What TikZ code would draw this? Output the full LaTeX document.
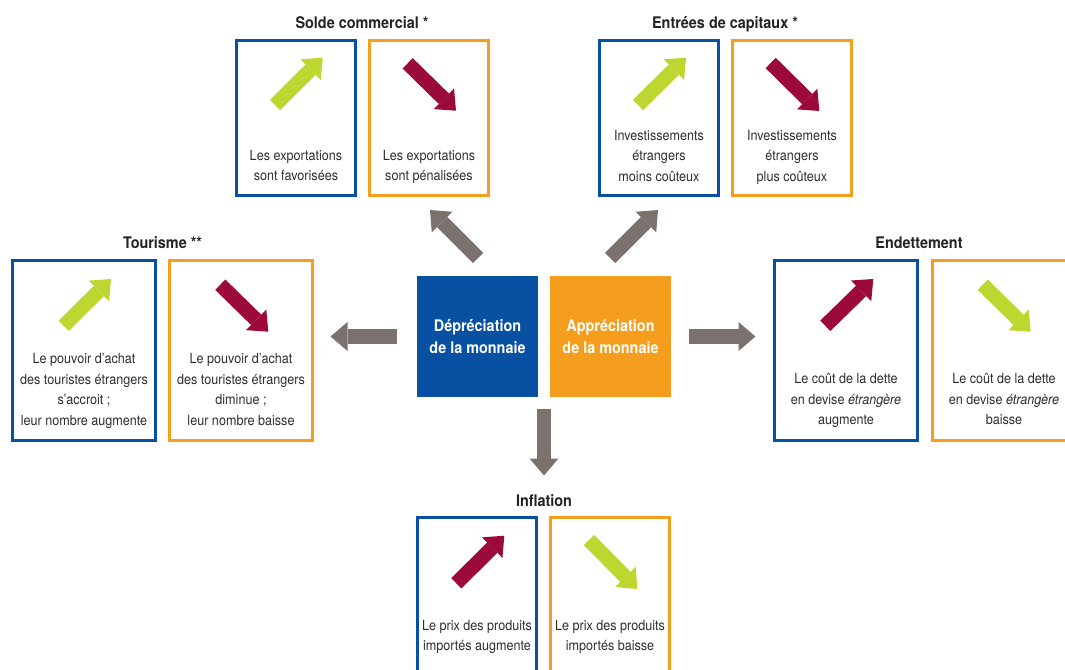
\documentclass[tikz,border=0pt]{standalone}
\usepackage{fontspec}
\setmainfont{TeX Gyre Heros}[FakeStretch=0.9]
\usetikzlibrary{arrows.meta,calc}
\definecolor{cblue}{RGB}{8,81,162}
\definecolor{corange}{RGB}{245,158,30}
\definecolor{cgreen}{RGB}{190,214,48}
\definecolor{cred}{RGB}{155,10,58}
\definecolor{cgray}{RGB}{123,113,110}
\definecolor{ctext}{RGB}{45,45,45}
\definecolor{ctitle}{RGB}{35,35,35}
\tikzset{
  fat/.style={line width=14.5pt, -{Triangle[width=29pt,length=17pt,line width=0pt]}},
  graya/.style={fat, draw=cgray},
  bbox/.style={draw=cblue, line width=3pt, inner sep=0pt},
  obox/.style={draw=corange, line width=3pt, inner sep=0pt},
  narrowbox/.style={minimum width=119pt, minimum height=155pt},
  widebox/.style={minimum width=143pt, minimum height=180pt},
  lowbox/.style={minimum width=119pt, minimum height=181pt},
  body/.style={font=\fontsize{14}{20.5}\selectfont, align=center, text=ctext, inner sep=0pt, anchor=base},
  ttl/.style={font=\fontsize{16}{19}\selectfont\bfseries, text=ctitle, inner sep=0pt, anchor=base},
  central/.style={minimum width=121pt, minimum height=121pt, inner sep=0pt, text=white, align=center,
    font=\fontsize{16}{22.6}\selectfont\bfseries},
}
\begin{document}
\begin{tikzpicture}[x=1pt,y=-1pt]
\useasboundingbox (0,0) rectangle (1065,669);
% central boxes
\node[central, fill=cblue] (dep) at (477.5,336.5) {Dépréciation\\de la monnaie};
\node[central, fill=corange] (app) at (610.5,336.5) {Appréciation\\de la monnaie};
% Solde commercial
\node[ttl] (tS) at (362,28.3) {Solde commercial *};
\node[bbox, narrowbox] (sB) at (296,118) {};
\node[obox, narrowbox] (sO) at (429,118) {};
\node[body] (xsB) at (296,180.5) {Les exportations\\sont favorisées};
\node[body] (xsO) at (429,180.5) {Les exportations\\sont pénalisées};
\draw[fat, cgreen] (275,105) -- (322.7,57.7);
\draw[fat, cred] (407.7,63.3) -- (456,110.7);
% Entrees de capitaux
\node[ttl] (tC) at (725,28.3) {Entrées de capitaux *};
\node[bbox, narrowbox] (cB) at (659,118) {};
\node[obox, narrowbox] (cO) at (792,118) {};
\node[body] (xcB) at (659,181) {Investissements\\étrangers\\moins coûteux};
\node[body] (xcO) at (792,181) {Investissements\\étrangers\\plus coûteux};
\draw[fat, cgreen] (638,105) -- (686,57.7);
\draw[fat, cred] (770.7,63) -- (819.3,111);
% Tourisme
\node[ttl] (tT) at (162.5,248.3) {Tourisme **};
\node[bbox, widebox] (tB) at (84,350.5) {};
\node[obox, widebox] (tO) at (241,350.5) {};
\node[body] (xtB) at (84,425) {Le pouvoir d’achat\\des touristes étrangers\\s’accroit ;\\leur nombre augmente};
\node[body] (xtO) at (241,425) {Le pouvoir d’achat\\des touristes étrangers\\diminue ;\\leur nombre baisse};
\draw[fat, cgreen] (63.7,325.8) -- (111,279);
\draw[fat, cred] (220.3,284.7) -- (268.3,331.7);
% Endettement
\node[ttl] (tE) at (919,248.3) {Endettement};
\node[bbox, widebox] (eB) at (846,350.5) {};
\node[obox, widebox] (eO) at (1004,350.5) {};
\node[body] (xeB) at (846,424.5) {Le coût de la dette\\en devise \textit{étrangère}\\augmente};
\node[body] (xeO) at (1004,424.5) {Le coût de la dette\\en devise \textit{étrangère}\\baisse};
\draw[fat, cred] (825.3,325.8) -- (873.3,279);
\draw[fat, cgreen] (982.7,284.7) -- (1030.7,331.7);
% Inflation
\node[ttl] (tI) at (544,506) {Inflation};
\node[bbox, lowbox] (iB) at (477,608) {};
\node[obox, lowbox] (iO) at (610,608) {};
\node[body] (xiB) at (477,650.5) {Le prix des produits\\importés augmente};
\node[body] (xiO) at (610,650.5) {Le prix des produits\\importés baisse};
\draw[fat, cred] (456.3,583.3) -- (504.3,535.7);
\draw[fat, cgreen] (589,540) -- (637.3,589);
% gray connectors
\draw[graya, shorten <=20pt, shorten >=16.5pt] (dep.west) -- (dep.west -| tO.east);
\draw[graya, shorten <=18pt, shorten >=17.5pt] (app.east) -- (app.east -| eB.west);
\coordinate (mid) at ($(dep.south east)!0.5!(app.south west)$);
\draw[graya, shorten <=12pt, shorten >=40.5pt] (mid) -- (mid |- iB.north);
\coordinate (ulS) at (478,258);
\coordinate (ulE) at (430,210);
\draw[graya] (ulS) -- (ulE);
\coordinate (urS) at (610,258);
\coordinate (urE) at (658,210);
\draw[graya] (urS) -- (urE);
\end{tikzpicture}
\end{document}
